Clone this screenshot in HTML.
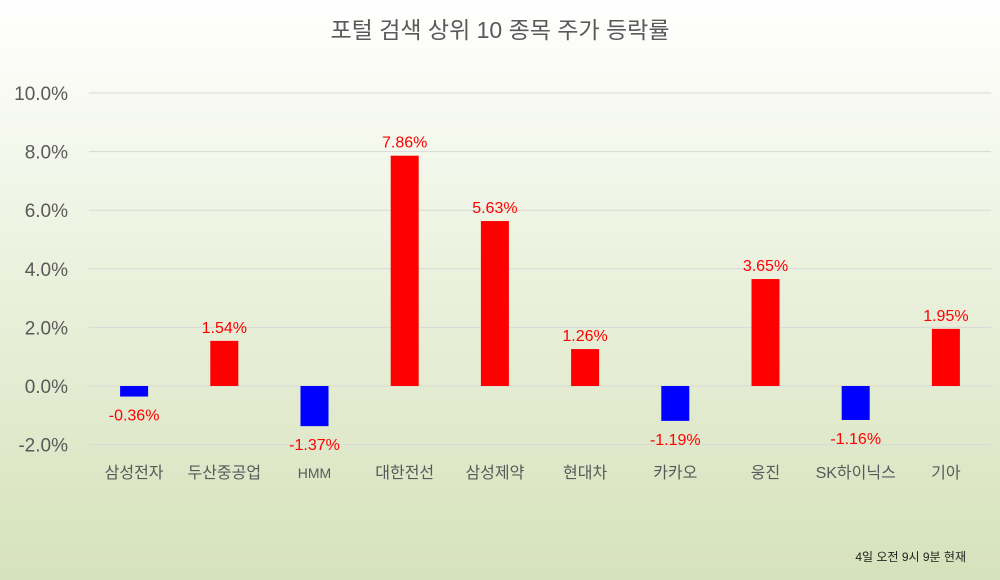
<!DOCTYPE html>
<html><head><meta charset="utf-8"><style>
html,body{margin:0;padding:0;width:1000px;height:580px;overflow:hidden}
body{background:linear-gradient(to bottom,#ffffff 0%,#eef3e2 40%,#d6e2bb 100%);font-family:"Liberation Sans","Noto Sans CJK KR",sans-serif}
</style></head><body>
<svg id="chart" width="1000" height="580" xmlns="http://www.w3.org/2000/svg" font-family="Liberation Sans, Noto Sans CJK KR, sans-serif">
<text x="500" y="38" text-anchor="middle" font-size="23" fill="#595959">포털 검색 상위 10 종목 주가 등락률</text>
<g id="grid"></g><g id="bars"></g>
<text x="966" y="561" text-anchor="end" font-size="12" fill="#222">4일 오전 9시 9분 현재</text>
</svg>
<script>
const categories=["삼성전자","두산중공업","HMM","대한전선","삼성제약","현대차","카카오","웅진","SK하이닉스","기아"];
const values=[-0.36,1.54,-1.37,7.86,5.63,1.26,-1.19,3.65,-1.16,1.95];
const ticks=[-2,0,2,4,6,8,10];
const ns="http://www.w3.org/2000/svg";
const x0=89,x1=991,yZero=386,pxPer=29.3;
const y=v=>yZero-v*pxPer;
const step=(x1-x0)/categories.length;
const xc=i=>x0+step*(i+0.5);
function mk(t,a,p){const e=document.createElementNS(ns,t);for(const k in a)e.setAttribute(k,a[k]);p.appendChild(e);return e;}
const g=document.getElementById('grid'),b=document.getElementById('bars');
ticks.forEach(t=>{
 const l=mk('line',{x1:x0,x2:x1,y1:y(t),y2:y(t),stroke:'#d9d9d9','stroke-width':1},g);
 
 
 const tx=mk('text',{x:68,y:y(t)+7,'text-anchor':'end','font-size':19,fill:'#595959'},g);
 tx.textContent=t.toFixed(1)+'%';
 
 
});
categories.forEach((c,i)=>{
 const v=values[i],w=28;
 const r=mk('rect',{x:xc(i)-w/2,y:Math.min(y(v),yZero),width:w,height:Math.abs(v)*pxPer,fill:v>=0?'#ff0000':'#0000ff'},b);
 
 
 const lt=mk('text',{x:xc(i),y:v>=0?y(v)-8:y(v)+24,'text-anchor':'middle','font-size':16,fill:'#ff0000'},b);
 lt.textContent=v.toFixed(2)+'%';
 
 
 const ct=mk('text',{x:xc(i),y:478,'text-anchor':'middle','font-size':c=="HMM"?14:16,fill:'#595959'},b);
 ct.textContent=c;
 
 
});
</script>
</body></html>
